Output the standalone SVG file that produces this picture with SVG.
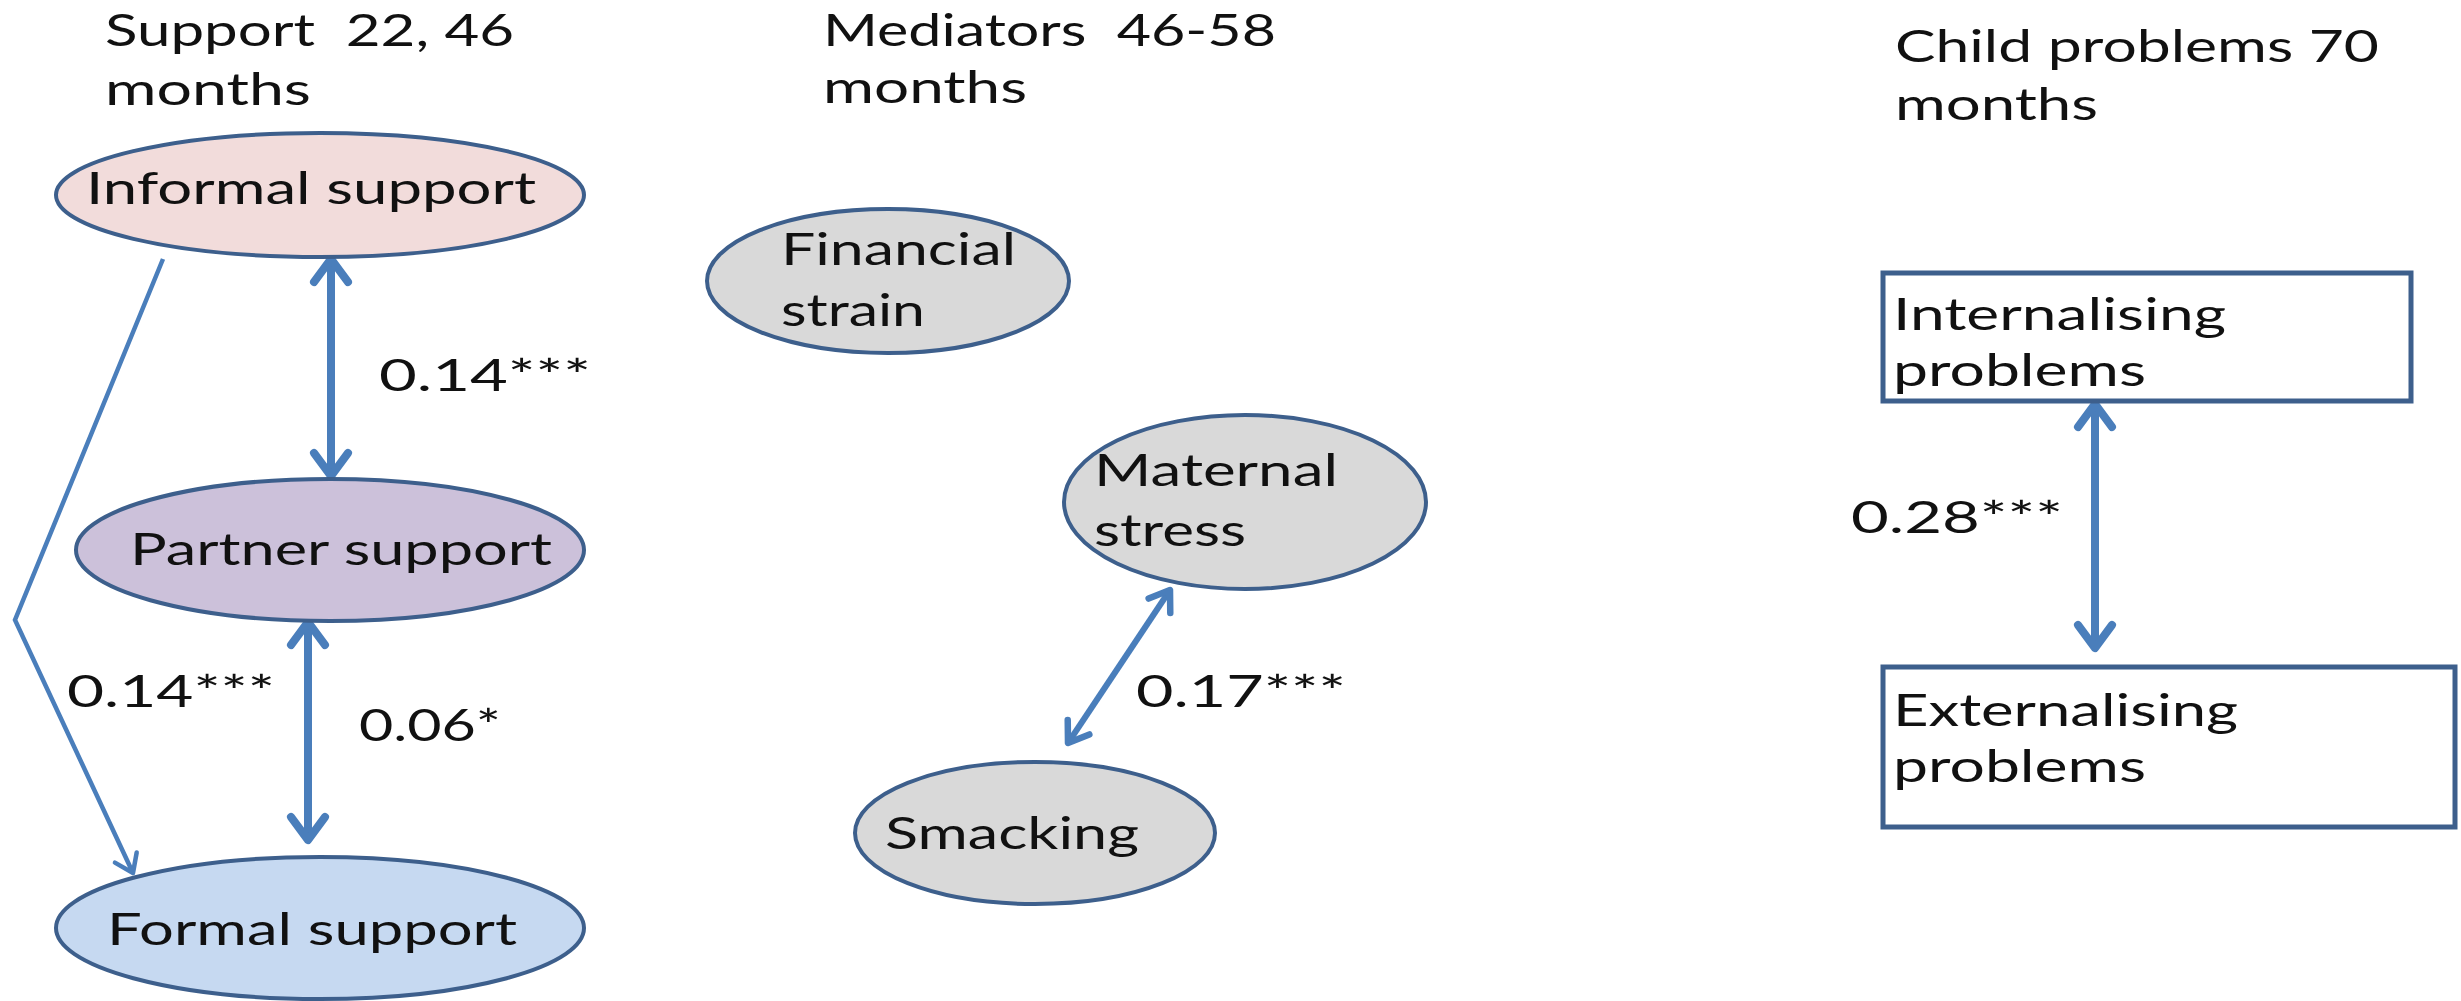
<svg xmlns="http://www.w3.org/2000/svg" width="2461" height="1001" viewBox="0 0 2461 1001">
<style>
  text { font-family: Lato, "Liberation Sans", Arial, sans-serif; font-size: 45px; fill: #111; }
  .node { stroke: #3d5f8c; stroke-width: 4; }
  .inf { fill: #f2dcdb; }
  .par { fill: #ccc1da; }
  .form { fill: #c6d9f1; }
  .grey { fill: #d9d9d9; }
  .box { fill: #ffffff; stroke: #3d5f8c; stroke-width: 5; }
  .conn { fill: none; stroke: #4a7ebb; stroke-linecap: butt; stroke-linejoin: miter; }
  .thick { stroke-width: 8; }
  .mid { stroke-width: 6; }
  .thin { stroke-width: 4.5; }
</style>
<defs>
  <marker id="headBig" markerUnits="userSpaceOnUse" markerWidth="50" markerHeight="50" refX="0" refY="0" orient="auto-start-reverse" overflow="visible">
    <path d="M-23,-17 L0,0 L-23,17" fill="none" stroke="#4a7ebb" stroke-width="8" stroke-linecap="round" stroke-linejoin="round"/>
  </marker>
  <marker id="headMid" markerUnits="userSpaceOnUse" markerWidth="50" markerHeight="50" refX="0" refY="0" orient="auto-start-reverse" overflow="visible">
    <path d="M-19,-13 L0,0 L-19,13" fill="none" stroke="#4a7ebb" stroke-width="6.5" stroke-linecap="round" stroke-linejoin="round"/>
  </marker>
  <marker id="headSmall" markerUnits="userSpaceOnUse" markerWidth="40" markerHeight="40" refX="0" refY="0" orient="auto" overflow="visible">
    <path d="M-17,-12 L0,0 L-17,12" fill="none" stroke="#4a7ebb" stroke-width="4.5" stroke-linecap="round" stroke-linejoin="round"/>
  </marker>
</defs>
<rect x="0" y="0" width="2461" height="1001" fill="#ffffff"/>

<g id="titles">
  <text x="105" y="46" textLength="409" lengthAdjust="spacingAndGlyphs" xml:space="preserve">Support  22, 46</text>
  <text x="105" y="105" textLength="206" lengthAdjust="spacingAndGlyphs">months</text>
  <text x="823" y="46" textLength="453" lengthAdjust="spacingAndGlyphs" xml:space="preserve">Mediators  46-58</text>
  <text x="823" y="103" textLength="204" lengthAdjust="spacingAndGlyphs">months</text>
  <text x="1895" y="62" textLength="484" lengthAdjust="spacingAndGlyphs">Child problems 70</text>
  <text x="1895" y="120" textLength="203" lengthAdjust="spacingAndGlyphs">months</text>
</g>

<g id="connectors">
  <line class="conn thick" x1="331" y1="259" x2="331" y2="476" marker-start="url(#headBig)" marker-end="url(#headBig)"/>
  <line class="conn thick" x1="308" y1="622" x2="308" y2="840" marker-start="url(#headBig)" marker-end="url(#headBig)"/>
  <polyline class="conn thin" points="163,259 15,620 133,873" marker-end="url(#headSmall)"/>
  <line class="conn mid" x1="1170" y1="590" x2="1068" y2="743" marker-start="url(#headMid)" marker-end="url(#headMid)"/>
  <line class="conn thick" x1="2095" y1="404" x2="2095" y2="648" marker-start="url(#headBig)" marker-end="url(#headBig)"/>
  <text x="379" y="391" textLength="212" lengthAdjust="spacingAndGlyphs">0.14***</text>
  <text x="67" y="707" textLength="208" lengthAdjust="spacingAndGlyphs">0.14***</text>
  <text x="359" y="741" textLength="142" lengthAdjust="spacingAndGlyphs">0.06*</text>
  <text x="1136" y="707" textLength="210" lengthAdjust="spacingAndGlyphs">0.17***</text>
  <text x="1851" y="533" textLength="212" lengthAdjust="spacingAndGlyphs">0.28***</text>
</g>

<g id="informal-support">
  <ellipse class="node inf" cx="320" cy="195" rx="264" ry="62"/>
  <text x="86" y="204" textLength="450" lengthAdjust="spacingAndGlyphs">Informal support</text>
</g>
<g id="partner-support">
  <ellipse class="node par" cx="330" cy="550" rx="254" ry="71"/>
  <text x="130" y="565" textLength="422" lengthAdjust="spacingAndGlyphs">Partner support</text>
</g>
<g id="formal-support">
  <ellipse class="node form" cx="320" cy="928" rx="264" ry="71"/>
  <text x="107" y="945" textLength="410" lengthAdjust="spacingAndGlyphs">Formal support</text>
</g>
<g id="financial-strain">
  <ellipse class="node grey" cx="888" cy="281" rx="181" ry="72"/>
  <text x="781" y="265" textLength="235" lengthAdjust="spacingAndGlyphs">Financial</text>
  <text x="781" y="326" textLength="144" lengthAdjust="spacingAndGlyphs">strain</text>
</g>
<g id="maternal-stress">
  <ellipse class="node grey" cx="1245" cy="502" rx="181" ry="87"/>
  <text x="1094" y="486" textLength="244" lengthAdjust="spacingAndGlyphs">Maternal</text>
  <text x="1094" y="546" textLength="152" lengthAdjust="spacingAndGlyphs">stress</text>
</g>
<g id="smacking">
  <ellipse class="node grey" cx="1035" cy="833" rx="180" ry="71"/>
  <text x="885" y="849" textLength="254" lengthAdjust="spacingAndGlyphs">Smacking</text>
</g>
<g id="internalising-problems">
  <rect class="box" x="1883" y="273" width="528" height="128"/>
  <text x="1893" y="330" textLength="333" lengthAdjust="spacingAndGlyphs">Internalising</text>
  <text x="1893" y="386" textLength="253" lengthAdjust="spacingAndGlyphs">problems</text>
</g>
<g id="externalising-problems">
  <rect class="box" x="1883" y="667" width="572" height="160"/>
  <text x="1893" y="726" textLength="345" lengthAdjust="spacingAndGlyphs">Externalising</text>
  <text x="1893" y="782" textLength="253" lengthAdjust="spacingAndGlyphs">problems</text>
</g>
</svg>
